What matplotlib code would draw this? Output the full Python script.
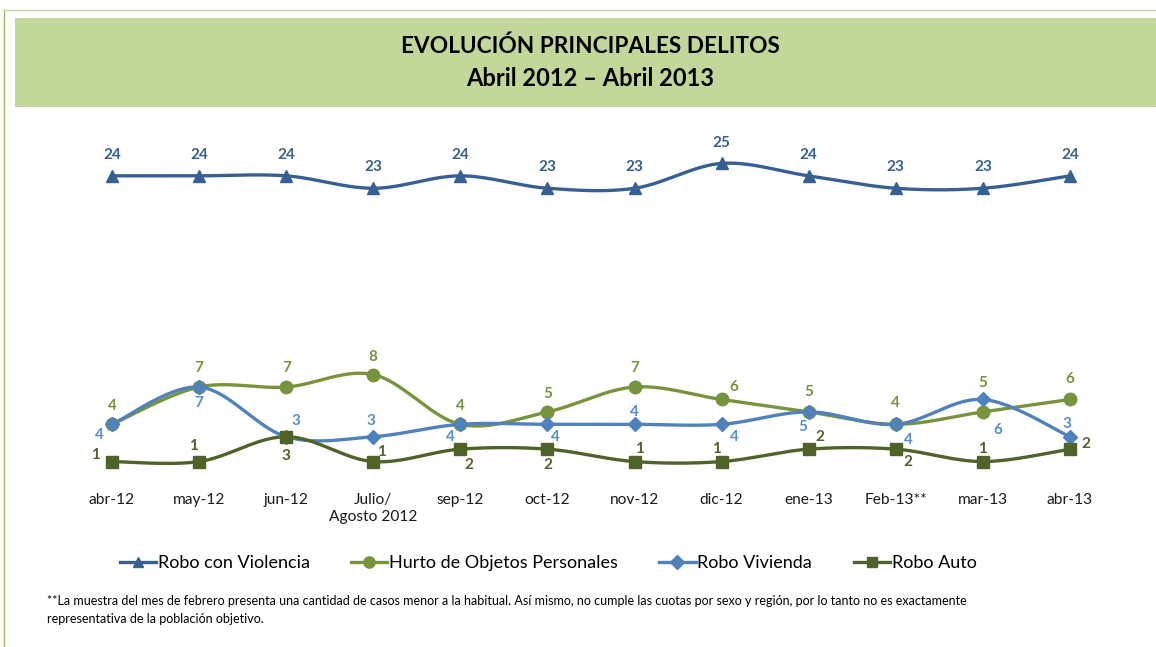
import numpy as np
import matplotlib
matplotlib.use("Agg")
import matplotlib.pyplot as plt
from matplotlib.patches import Rectangle
from matplotlib.lines import Line2D

plt.rcParams['font.family'] = ['Lato', 'DejaVu Sans']

categories = ["abr-12", "may-12", "jun-12", "Julio/\nAgosto 2012", "sep-12", "oct-12",
              "nov-12", "dic-12", "ene-13", "Feb-13**", "mar-13", "abr-13"]
robo_violencia = [24, 24, 24, 23, 24, 23, 23, 25, 24, 23, 23, 24]
hurto_objetos = [4, 7, 7, 8, 4, 5, 7, 6, 5, 4, 5, 6]
robo_vivienda = [4, 7, 3, 3, 4, 4, 4, 4, 5, 4, 6, 3]
robo_auto = [1, 1, 3, 1, 2, 2, 1, 1, 2, 2, 1, 2]

# label offsets (points) per series
off_viol = [(0, 15)] * 12
off_hurto = [(0, 13.5), (0, 14), (0, 14), (0, 13), (0, 13), (0, 13), (0, 14), (9, 9),
             (0, 14), (0, 15), (0, 21), (0, 15)]
off_viv = [(-9, -8), (0, -11.5), (7, 11), (-2, 11), (-7, -9), (6, -9), (0, 9), (9, -9),
           (-4, -11), (9, -11), (11, -22), (-2, 9)]
off_auto = [(-12, 5), (-4, 11.5), (0, -14), (6, 7), (6, -11.5), (0, -11.5), (3.5, 9), (-3.5, 9),
            (8, 9), (9, -9), (0, 9), (11.5, 4)]


def smooth(xs, ys, n=40):
    p = np.column_stack([xs, ys]).astype(float)
    out = []
    for i in range(len(p) - 1):
        p0 = p[i - 1] if i > 0 else p[i]
        p1, p2 = p[i], p[i + 1]
        p3 = p[i + 2] if i + 2 < len(p) else p[i + 1]
        c1 = p1 + (p2 - p0) / 6.0
        c2 = p2 - (p3 - p1) / 6.0
        t = np.linspace(0, 1, n)[:, None]
        seg = ((1 - t) ** 3) * p1 + 3 * ((1 - t) ** 2) * t * c1 + 3 * (1 - t) * t ** 2 * c2 + t ** 3 * p2
        out.append(seg if i == 0 else seg[1:])
    s = np.vstack(out)
    return s[:, 0], s[:, 1]


W, H = 1156, 647
fig = plt.figure(figsize=(W / 100, H / 100), dpi=100)

# frame lines & title box
fig.add_artist(Line2D([4 / W, 4 / W], [0, 1 - 10 / H], color="#9bbb59", lw=1.0))
fig.add_artist(Line2D([4 / W, 1], [1 - 10 / H, 1 - 10 / H], color="#c4d79b", lw=1.0))
fig.add_artist(Rectangle((15 / W, 1 - 107 / H), 1 - 15 / W, 89 / H, color="#c4d79b", lw=0))
fig.text(590 / W, 1 - 46 / H, "EVOLUCIÓN PRINCIPALES DELITOS", ha="center", va="center",
         fontsize=16.3, fontweight="bold", color="black")
fig.text(590 / W, 1 - 78 / H, "Abril 2012 – Abril 2013", ha="center", va="center",
         fontsize=17, fontweight="bold", color="black")

ax = fig.add_axes([68.5 / W, 1 - 474 / H, 1045 / W, (474 - 151) / H])
ax.set_xlim(-0.5, 11.5)
ax.set_ylim(0, 26)
for s in ax.spines.values():
    s.set_visible(False)
ax.set_yticks([])
x = np.arange(len(categories))
ax.set_xticks(x)
ax.set_xticklabels(categories, fontsize=11.2, color="#1a1a1a", linespacing=1.25)
ax.tick_params(axis="x", length=0, pad=14)

series = [
    ("Robo con Violencia", robo_violencia, "#376092", "^", 8, "#376092", off_viol),
    ("Hurto de Objetos Personales", hurto_objetos, "#77933c", "o", 9, "#77933c", off_hurto),
    ("Robo Vivienda", robo_vivienda, "#4f81bd", "D", 7.5, "#558ed5", off_viv),
    ("Robo Auto", robo_auto, "#4f6228", "s", 8, "#4f6228", off_auto),
]
handles = []
for name, vals, col, mk, ms, lcol, offs in series:
    sx, sy = smooth(x, vals)
    ax.plot(sx, sy, color=col, lw=2.4, solid_capstyle="round", zorder=2)
    ax.plot(x, vals, ls="none", marker=mk, ms=ms, color=col, zorder=3)
    for xi, v, (dx, dy) in zip(x, vals, offs):
        ax.annotate(str(v), (xi, v), xytext=(dx, dy), textcoords="offset points",
                    ha="center", va="center", fontsize=11, fontweight="bold", color=lcol,
                    zorder=4)
    handles.append(Line2D([0], [0], color=col, lw=2.4, marker=mk, ms=ms * 0.9))

fig.legend(handles, [s[0] for s in series], loc="center", bbox_to_anchor=(548 / W, 1 - 563 / H),
           ncol=4, frameon=False, fontsize=13, handlelength=2.0, handletextpad=0.1,
           columnspacing=2.3)

fig.text(47 / W, 1 - 601 / H,
         "**La muestra del mes de febrero presenta una cantidad de casos menor a la habitual. "
         "Así mismo, no cumple las cuotas por sexo y región, por lo tanto no es exactamente",
         fontsize=9, va="center", ha="left", color="black")
fig.text(47 / W, 1 - 619 / H, "representativa de la población objetivo.",
         fontsize=9, va="center", ha="left", color="black")

fig.savefig("out.png", dpi=100)
